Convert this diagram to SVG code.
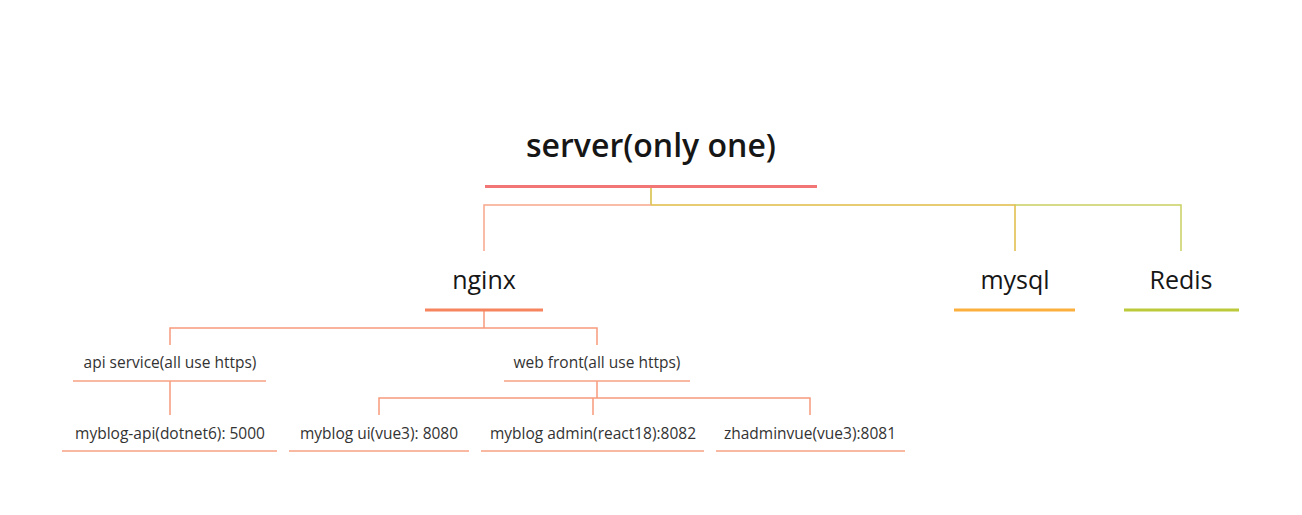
<svg xmlns="http://www.w3.org/2000/svg" width="1302" height="515" viewBox="0 0 1302 515">
<style>
text{font-family:"Open Sans","Liberation Sans",sans-serif;fill:#161616;text-anchor:middle}
.t0{font-size:32px;font-weight:600}
.t1{font-size:25px;font-weight:500}
.t2{font-size:15.5px;fill:#333}
.c{fill:none;stroke-width:1.5}
.u{stroke-width:1.5}
</style>
<rect width="1302" height="515" fill="#fff"/>
<g id="connectors">
<path class="c" d="M651 187V205" stroke="#D6BE3E"/>
<path class="c" d="M651 205H484V251" stroke="#F7A78A"/>
<path class="c" d="M651 205H1015V251" style="stroke:#E0BC45"/>
<path class="c" d="M1015 205H1181V251" stroke="#C8D060"/>
<path class="c" d="M484 311V328H170V345M484 328H597V345" stroke="#F79A7C"/>
<path class="c" d="M170 381V415" stroke="#F79A7C"/>
<path class="c" d="M597 381V398H379V415M593 398V415M597 398H810V415" stroke="#F79A7C"/>
</g>
<g id="root">
<text class="t0" x="651" y="157">server(only one)</text>
<line x1="485" y1="186.5" x2="817" y2="186.5" stroke="#F27676" stroke-width="3"/>
</g>
<g id="nginx">
<text class="t1" x="484" y="289">nginx</text>
<line x1="425" y1="310" x2="543" y2="310" stroke="#F6845F" stroke-width="3"/>
</g>
<g id="mysql">
<text class="t1" x="1015" y="289">mysql</text>
<line x1="954" y1="310" x2="1075" y2="310" stroke="#FBAF3C" stroke-width="3"/>
</g>
<g id="redis">
<text class="t1" x="1181" y="289">Redis</text>
<line x1="1124" y1="310" x2="1239" y2="310" stroke="#BCC93A" stroke-width="3"/>
</g>
<g id="api">
<text class="t2" x="170" y="368">api service(all use https)</text>
<line class="u" x1="73" y1="381" x2="266" y2="381" stroke="#F7A183"/>
</g>
<g id="web">
<text class="t2" x="597" y="368">web front(all use https)</text>
<line class="u" x1="504" y1="381" x2="690" y2="381" stroke="#F7A183"/>
</g>
<g id="myblogapi">
<text class="t2" x="170" y="439">myblog-api(dotnet6): 5000</text>
<line class="u" x1="62" y1="451" x2="277" y2="451" stroke="#F7A183"/>
</g>
<g id="myblogui">
<text class="t2" x="379" y="439">myblog ui(vue3): 8080</text>
<line class="u" x1="289" y1="451" x2="469" y2="451" stroke="#F7A183"/>
</g>
<g id="myblogadmin">
<text class="t2" x="593" y="439">myblog admin(react18):8082</text>
<line class="u" x1="481" y1="451" x2="704" y2="451" stroke="#F7A183"/>
</g>
<g id="zhadminvue">
<text class="t2" x="810" y="439">zhadminvue(vue3):8081</text>
<line class="u" x1="716" y1="451" x2="905" y2="451" stroke="#F7A183"/>
</g>
</svg>
